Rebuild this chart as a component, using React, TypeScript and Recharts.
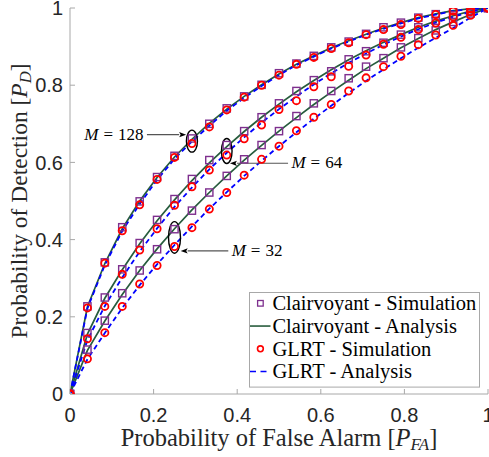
import React from 'react';
import { LineChart, Line, XAxis, YAxis, Legend, ReferenceDot, Label } from 'recharts';

// Probability of false alarm grid
const pfa = [0, 0.0417, 0.0833, 0.125, 0.1667, 0.2083, 0.25, 0.2917, 0.3333, 0.375, 0.4167, 0.4583, 0.5,
  0.5417, 0.5833, 0.625, 0.6667, 0.7083, 0.75, 0.7917, 0.8333, 0.875, 0.9167, 0.9583, 1];

// M = 128
const clairSim128 = [0, 0.227, 0.341, 0.432, 0.499, 0.562, 0.617, 0.662, 0.700, 0.740, 0.771, 0.801, 0.831,
  0.856, 0.876, 0.898, 0.913, 0.933, 0.950, 0.962, 0.975, 0.984, 0.993, 0.998, 1];
const clairAna128 = [0, 0.226, 0.338, 0.428, 0.500, 0.561, 0.614, 0.660, 0.701, 0.738, 0.771, 0.801, 0.829,
  0.854, 0.876, 0.897, 0.915, 0.932, 0.948, 0.962, 0.975, 0.985, 0.993, 0.998, 1];
const glrtSim128 = [0, 0.223, 0.339, 0.423, 0.490, 0.556, 0.613, 0.649, 0.692, 0.736, 0.769, 0.800, 0.826,
  0.854, 0.872, 0.895, 0.910, 0.931, 0.944, 0.957, 0.973, 0.983, 0.992, 0.998, 1];
const glrtAna128 = [0, 0.222, 0.334, 0.422, 0.492, 0.555, 0.609, 0.654, 0.695, 0.734, 0.767, 0.798, 0.826,
  0.852, 0.874, 0.895, 0.913, 0.931, 0.946, 0.960, 0.973, 0.983, 0.992, 0.998, 1];

// M = 64
const clairSim64 = [0, 0.158, 0.250, 0.323, 0.391, 0.451, 0.505, 0.557, 0.606, 0.645, 0.681, 0.717, 0.753,
  0.785, 0.813, 0.836, 0.867, 0.888, 0.910, 0.931, 0.950, 0.967, 0.981, 0.993, 1];
const clairAna64 = [0, 0.155, 0.248, 0.322, 0.389, 0.449, 0.503, 0.553, 0.599, 0.641, 0.680, 0.717, 0.751,
  0.783, 0.812, 0.840, 0.866, 0.889, 0.911, 0.931, 0.950, 0.966, 0.980, 0.992, 1];
const glrtSim64 = [0, 0.143, 0.227, 0.310, 0.373, 0.428, 0.489, 0.537, 0.580, 0.619, 0.661, 0.697, 0.737,
  0.760, 0.796, 0.822, 0.849, 0.878, 0.906, 0.924, 0.944, 0.961, 0.977, 0.990, 1];
const glrtAna64 = [0, 0.140, 0.228, 0.302, 0.369, 0.429, 0.485, 0.535, 0.582, 0.625, 0.665, 0.703, 0.738,
  0.771, 0.802, 0.831, 0.858, 0.882, 0.905, 0.926, 0.945, 0.962, 0.977, 0.990, 1];

// M = 32
const clairSim32 = [0, 0.115, 0.190, 0.261, 0.320, 0.375, 0.427, 0.475, 0.522, 0.565, 0.608, 0.645, 0.681,
  0.720, 0.753, 0.785, 0.818, 0.848, 0.870, 0.898, 0.922, 0.942, 0.964, 0.986, 1];
const clairAna32 = [0, 0.113, 0.189, 0.258, 0.320, 0.376, 0.428, 0.477, 0.522, 0.565, 0.606, 0.644, 0.681,
  0.716, 0.750, 0.782, 0.813, 0.843, 0.870, 0.897, 0.921, 0.944, 0.964, 0.983, 1];
const glrtSim32 = [0, 0.091, 0.159, 0.227, 0.285, 0.333, 0.382, 0.431, 0.479, 0.522, 0.567, 0.608, 0.642,
  0.682, 0.717, 0.750, 0.785, 0.819, 0.848, 0.875, 0.905, 0.930, 0.955, 0.981, 1];
const glrtAna32 = [0, 0.090, 0.158, 0.223, 0.282, 0.336, 0.386, 0.434, 0.480, 0.523, 0.565, 0.604, 0.642,
  0.678, 0.713, 0.747, 0.780, 0.811, 0.841, 0.870, 0.897, 0.923, 0.948, 0.975, 1];

const xTicks = [0, 0.2, 0.4, 0.6, 0.8, 1];
const yTicks = [0, 0.2, 0.4, 0.6, 0.8, 1];

const legendLabels = ['Clairvoyant - Simulation', 'Clairvoyant - Analysis', 'GLRT - Simulation', 'GLRT - Analysis'];

// annotations: label and ellipse centre (data coords)
const annotationLabels = ['128', '64', '32'];
const annotationX = [0.2917, 0.375, 0.25];
const annotationY = [0.655, 0.6295, 0.4057];

const data = pfa.map((x, i) => ({
  pfa: x,
  cs128: clairSim128[i], ca128: clairAna128[i], gs128: glrtSim128[i], ga128: glrtAna128[i],
  cs64: clairSim64[i], ca64: clairAna64[i], gs64: glrtSim64[i], ga64: glrtAna64[i],
  cs32: clairSim32[i], ca32: clairAna32[i], gs32: glrtSim32[i], ga32: glrtAna32[i],
}));

const PURPLE = '#7E2F8E';
const GREEN = '#275c3d';
const RED = '#ff0000';
const BLUE = '#0000ff';
const AXIS = '#a8a8a8';
const SERIF = 'Liberation Serif, DejaVu Serif, serif';
const SANS = 'Liberation Sans, Arial, sans-serif';

const SquareDot = (props: any) => {
  const { cx, cy, index } = props;
  if (cx == null || cy == null) return <g key={index} />;
  return (
    <rect key={index} x={cx - 3.6} y={cy - 3.6} width={7.2} height={7.2}
      fill="none" stroke={PURPLE} strokeWidth={1.4} />
  );
};

const EmptyTick = () => <g />;

const XTitle = (props: any) => {
  const vb = props.viewBox || { x: 70, y: 394, width: 418, height: 63 };
  return (
    <text x={vb.x + vb.width / 2} y={vb.y + 52} textAnchor="middle" style={{ fontFamily: SERIF }} fontSize={24.5} fill="#262626">
      Probability of False Alarm [<tspan fontStyle="italic">P</tspan>
      <tspan fontStyle="italic" fontSize={17} dy={4}>FA</tspan>
      <tspan dy={-4}>]</tspan>
    </text>
  );
};

const YTitle = (props: any) => {
  const vb = props.viewBox || { x: 0, y: 8, width: 70, height: 386 };
  const cx = 27;
  const cy = vb.y + vb.height / 2;
  return (
    <text x={cx} y={cy} textAnchor="middle" style={{ fontFamily: SERIF }} fontSize={23.5} fill="#262626"
      transform={`rotate(-90 ${cx} ${cy})`}>
      Probability of Detection [<tspan fontStyle="italic">P</tspan>
      <tspan fontStyle="italic" fontSize={16.5} dy={4}>D</tspan>
      <tspan dy={-4}>]</tspan>
    </text>
  );
};

const annoStyle = [
  { rx: 5.5, ry: 11, ax1: -45, ax2: -5.8, ay: -6.5, tx: -48.4, ty: -0.8, anchor: 'end' },
  { rx: 5.3, ry: 12.5, ax1: 61.3, ax2: 3.2, ay: 12.3, tx: 64.7, ty: 17, anchor: 'start' },
  { rx: 6, ry: 15.8, ax1: 53.8, ax2: 6.2, ay: 13.5, tx: 57.2, ty: 18.3, anchor: 'start' },
];

const makeAnnotation = (i: number) => (props: any) => {
  const { cx, cy } = props;
  if (cx == null || cy == null) return <g />;
  const s = annoStyle[i];
  const dir = s.ax2 > s.ax1 ? 1 : -1;
  const hx = cx + s.ax2;
  const hy = cy + s.ay;
  const tipBack = hx - dir * 7;
  return (
    <g>
      <ellipse cx={cx} cy={cy} rx={s.rx} ry={s.ry} fill="none" stroke="#000" strokeWidth={1.4} />
      <line x1={cx + s.ax1} y1={hy} x2={tipBack} y2={hy} stroke="#555" strokeWidth={1.1} />
      <polygon points={`${hx},${hy} ${tipBack},${hy - 2.6} ${tipBack + dir * 1.5},${hy} ${tipBack},${hy + 2.6}`} fill="#000" />
      <text x={cx + s.tx} y={cy + s.ty} textAnchor={s.anchor} style={{ fontFamily: SERIF }} fontSize={17} fill="#000">
        <tspan fontStyle="italic">M</tspan>
        <tspan dx={5}>=</tspan>
        <tspan dx={5}>{annotationLabels[i]}</tspan>
      </text>
    </g>
  );
};

const LegendBox = () => (
  <svg width={232} height={97} style={{ display: 'block', overflow: 'visible' }}>
    <rect x={0.5} y={0.5} width={230} height={94.6} fill="#fff" stroke={AXIS} strokeWidth={1} />
    {legendLabels.map((t, i) => {
      const base = 18 + 22.75 * i;
      const cy = base - 6.7;
      let icon: any = null;
      if (i === 0) icon = <rect x={11.4 - 2.8} y={cy - 2.8} width={5.6} height={5.6} fill="none" stroke={PURPLE} strokeWidth={1.3} />;
      if (i === 1) icon = <line x1={1} y1={cy} x2={21.5} y2={cy} stroke={GREEN} strokeWidth={1.6} />;
      if (i === 2) icon = <circle cx={11.4} cy={cy} r={2.9} fill="none" stroke={RED} strokeWidth={1.6} />;
      if (i === 3) icon = <line x1={1} y1={cy} x2={21.5} y2={cy} stroke={BLUE} strokeWidth={1.6} strokeDasharray="6 4.5" />;
      return (
        <g key={i}>
          {icon}
          <text x={23.4} y={base} style={{ fontFamily: SERIF }} fontSize={20.5} fill="#000">{t}</text>
        </g>
      );
    })}
  </svg>
);

const groups = [
  { m: '128' },
  { m: '64' },
  { m: '32' },
];

export default function App() {
  return (
    <div style={{ position: 'absolute', left: 0, top: 0, width: 489, height: 457, background: '#fff' }}>
      <LineChart width={489} height={457} data={data} margin={{ top: 8, right: 1, bottom: 0, left: 0 }}>
        <XAxis dataKey="pfa" type="number" domain={[0, 1]} ticks={xTicks} interval={0} height={63}
          tickSize={-5} tickMargin={19} axisLine={{ stroke: AXIS }} tickLine={{ stroke: AXIS }}
          tick={{ fill: '#262626', fontSize: 20, fontFamily: SANS }} allowDataOverflow>
          <Label content={XTitle} />
        </XAxis>
        <XAxis xAxisId="top" orientation="top" type="number" domain={[0, 1]} ticks={xTicks} interval={0}
          height={0} tickSize={-5} axisLine={{ stroke: AXIS }} tickLine={{ stroke: AXIS }} tick={EmptyTick} />
        <YAxis type="number" domain={[0, 1]} ticks={yTicks} interval={0} width={70}
          tickSize={-5} tickMargin={12} axisLine={{ stroke: AXIS }} tickLine={{ stroke: AXIS }}
          tick={{ fill: '#262626', fontSize: 20, fontFamily: SANS }} allowDataOverflow>
          <Label content={YTitle} />
        </YAxis>
        <YAxis yAxisId="right" orientation="right" type="number" domain={[0, 1]} ticks={yTicks} interval={0}
          width={0} tickSize={-5} axisLine={{ stroke: AXIS }} tickLine={{ stroke: AXIS }} tick={EmptyTick} />

        {groups.map((g) => (
          <Line key={'cs' + g.m} dataKey={'cs' + g.m} type="linear" stroke="none" dot={SquareDot}
            activeDot={false} isAnimationActive={false} legendType="none" />
        ))}
        {groups.map((g) => (
          <Line key={'ca' + g.m} dataKey={'ca' + g.m} type="linear" stroke={GREEN} strokeWidth={1.7} dot={false}
            activeDot={false} isAnimationActive={false} legendType="none" />
        ))}
        {groups.map((g) => (
          <Line key={'gs' + g.m} dataKey={'gs' + g.m} type="linear" stroke="none"
            dot={{ r: 3.6, stroke: RED, strokeWidth: 1.8, fill: 'none' }}
            activeDot={false} isAnimationActive={false} legendType="none" />
        ))}
        {groups.map((g) => (
          <Line key={'ga' + g.m} dataKey={'ga' + g.m} type="linear" stroke={BLUE} strokeWidth={1.8}
            strokeDasharray="5 3.5" dot={false} activeDot={false} isAnimationActive={false} legendType="none" />
        ))}

        {annotationLabels.map((lab, i) => (
          <ReferenceDot key={'anno' + lab} x={annotationX[i]} y={annotationY[i]} r={1}
            shape={makeAnnotation(i)} ifOverflow="visible" />
        ))}

        <Legend layout="vertical" align="center" verticalAlign="middle" content={LegendBox}
          wrapperStyle={{ left: 249, top: 292, width: 232, height: 97 }} />
      </LineChart>
    </div>
  );
}
